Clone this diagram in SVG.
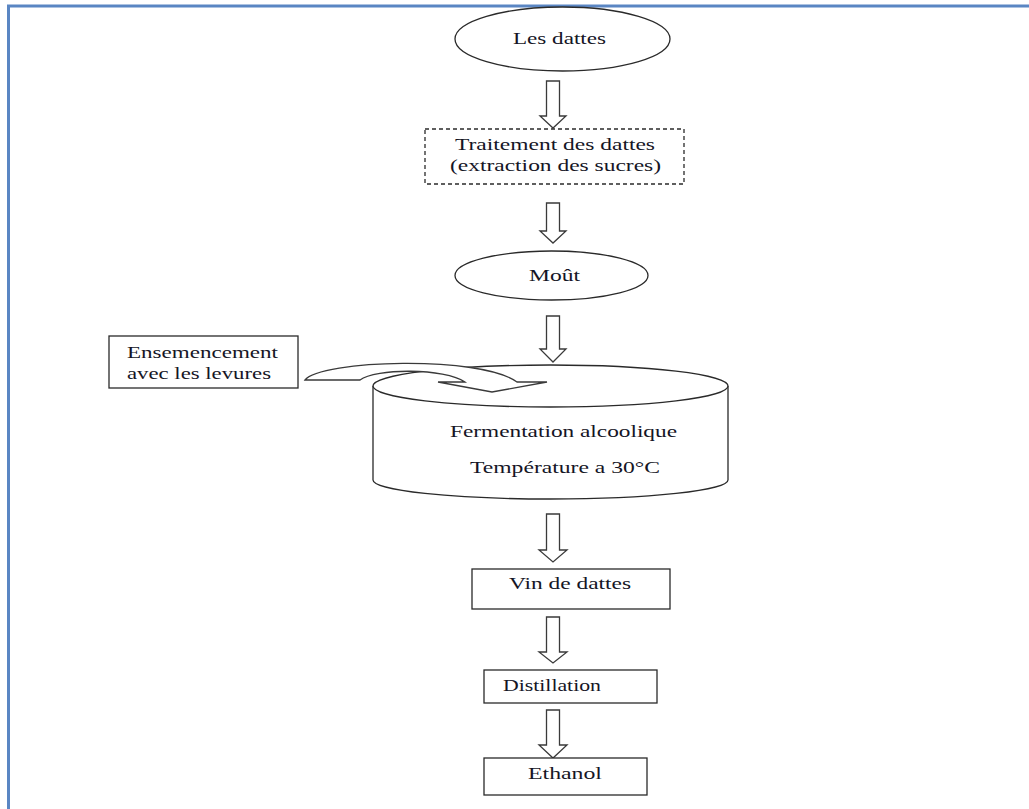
<svg xmlns="http://www.w3.org/2000/svg" width="1029" height="809" viewBox="0 0 1029 809">
<style>
.sh{fill:#fff;stroke:#2a2a2a;stroke-width:1.3}
.t{font-family:"Liberation Serif","Times New Roman",serif;font-size:17px;fill:#151525}
.ar{fill:#fff;stroke:#3a3a3a;stroke-width:1.3;stroke-linejoin:miter}
</style>
<rect width="1029" height="809" fill="#fff"/>
<polyline points="8.5,809 8.5,6 1029,6" fill="none" stroke="#5a86c3" stroke-width="3"/>

<g id="connectors">
<path class="ar" d="M546.5,81 H559.5 V116 H566 L553,128 L540,116 H546.5 Z"/>
<path class="ar" d="M546.5,203 H559.5 V231 H566 L553,243 L540,231 H546.5 Z"/>
<path class="ar" d="M546.5,316 H559.5 V349 H566 L553,362 L540,349 H546.5 Z"/>
<path class="ar" d="M546.5,514 H559.5 V550 H567 L553,562 L539,550 H546.5 Z"/>
<path class="ar" d="M546.5,617 H559.5 V652 H567 L553,663 L539,652 H546.5 Z"/>
<path class="ar" d="M546.5,710 H559.5 V745 H567 L553,758 L539,745 H546.5 Z"/>
</g>

<g id="les-dattes">
<ellipse class="sh" cx="562.5" cy="39" rx="107.5" ry="32"/>
<text class="t" x="513" y="44" textLength="93" lengthAdjust="spacingAndGlyphs">Les dattes</text>
</g>

<g id="traitement">
<rect class="sh" x="425" y="129" width="259" height="55" stroke-dasharray="4,3"/>
<text class="t" x="455" y="150" font-size="16" textLength="200" lengthAdjust="spacingAndGlyphs">Traitement des dattes</text>
<text class="t" x="450" y="171" font-size="16" textLength="211" lengthAdjust="spacingAndGlyphs">(extraction des sucres)</text>
</g>

<g id="mout">
<ellipse class="sh" cx="551.5" cy="275.5" rx="96.5" ry="24.5"/>
<text class="t" x="529" y="281" textLength="51" lengthAdjust="spacingAndGlyphs">Moût</text>
</g>

<g id="fermentation">
<path class="sh" d="M373,386 V480 A177.5,19 0 0 0 728,480 V386"/>
<ellipse class="sh" cx="550.5" cy="386" rx="177.5" ry="21"/>
<text class="t" x="450" y="437" textLength="227" lengthAdjust="spacingAndGlyphs">Fermentation alcoolique</text>
<text class="t" x="470" y="473" textLength="190" lengthAdjust="spacingAndGlyphs">Température a 30°C</text>
</g>

<g id="ensemencement">
<rect class="sh" x="109" y="336" width="189" height="52"/>
<text class="t" x="127" y="358" textLength="151" lengthAdjust="spacingAndGlyphs">Ensemencement</text>
<text class="t" x="127" y="379" textLength="144" lengthAdjust="spacingAndGlyphs">avec les levures</text>
</g>

<g id="curved-arrow">
<path class="ar" d="M305,380 C320,360 480,355 517,382 L547,382 L492,392 L438,382 L465,382 C445,368 375,368 360,380 Z"/>
</g>

<g id="vin">
<rect class="sh" x="472" y="569" width="198" height="40"/>
<text class="t" x="509" y="589" textLength="122" lengthAdjust="spacingAndGlyphs">Vin de dattes</text>
</g>

<g id="distillation">
<rect class="sh" x="484" y="670" width="173" height="33"/>
<text class="t" x="503" y="691" textLength="98" lengthAdjust="spacingAndGlyphs">Distillation</text>
</g>

<g id="ethanol">
<rect class="sh" x="484" y="758" width="163" height="37"/>
<text class="t" x="528" y="779" textLength="74" lengthAdjust="spacingAndGlyphs">Ethanol</text>
</g>
</svg>
